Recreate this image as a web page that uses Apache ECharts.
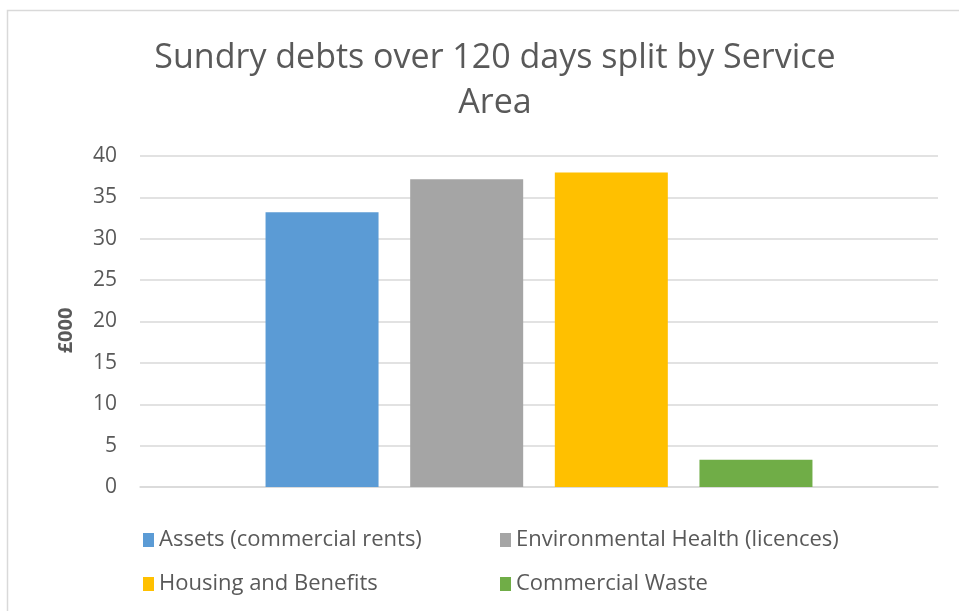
<!DOCTYPE html>
<html>
<head>
<meta charset="utf-8">
<script src="https://cdn.jsdelivr.net/npm/echarts@6/dist/echarts.min.js"></script>
<style>
  html, body { margin: 0; padding: 0; background: #fff; }
  #chart { width: 959px; height: 611px; }
</style>
</head>
<body>
<div id="chart"></div>
<script>
window.addEventListener("load", () => {
    // data
    const seriesNames = ["Assets (commercial rents)", "Environmental Health (licences)", "Housing and Benefits", "Commercial Waste"]
    const seriesValues = [33.2, 37.2, 38.0, 3.3]
    const seriesColors = ["#5b9bd5", "#a5a5a5", "#ffc000", "#70ad47"]
    const categories = [""]

    const FONT = "'Open Sans', 'Liberation Sans', sans-serif"
    const GREY = "#595959"

    let option = {
        backgroundColor: "#fff",
        animation: false,
        title: {
            text: "Sundry debts over 120 days split by Service\nArea",
            left: 490,
            top: 31,
            textAlign: "center",
            textStyle: {
                fontFamily: FONT,
                fontSize: 34,
                fontWeight: "normal",
                color: GREY,
                lineHeight: 45
            }
        },
        graphic: [{
            type: "rect",
            shape: { x: 7.5, y: 10.5, width: 960, height: 620 },
            style: { fill: "none", stroke: "#d9d9d9", lineWidth: 1.5 },
            silent: true
        }],
        legend: {
            left: 138,
            top: 518,
            width: 800,
            itemWidth: 11,
            itemHeight: 14,
            itemGap: 10,
            icon: "rect",
            textStyle: {
                fontFamily: FONT,
                fontSize: 22,
                color: GREY,
                width: 331,
                lineHeight: 34
            },
            data: seriesNames
        },
        grid: { left: 140, right: 21, top: 156, bottom: 124 },
        xAxis: {
            type: "category",
            data: categories,
            axisLine: { lineStyle: { color: "#d9d9d9", width: 1.5 } },
            axisTick: { show: false },
            axisLabel: { show: false }
        },
        yAxis: {
            type: "value",
            min: 0,
            max: 40,
            interval: 5,
            name: "£000",
            nameLocation: "middle",
            nameGap: 64,
            nameRotate: 90,
            nameTextStyle: { fontFamily: FONT, fontSize: 20, fontWeight: "bold", color: GREY, padding: [0, 18, 0, 0] },
            axisLine: { show: false },
            axisTick: { show: false },
            axisLabel: { fontFamily: FONT, fontSize: 21, color: GREY, margin: 23 },
            splitLine: { lineStyle: { color: "#d9d9d9", width: 1.5 } }
        },
        series: seriesNames.map((name, i) => ({
            name: name,
            type: "bar",
            data: [seriesValues[i]],
            barWidth: 113,
            barGap: "28%",
            itemStyle: { color: seriesColors[i] }
        }))
    };

    echarts.init(document.getElementById("chart")).setOption(option);
})
</script>
</body>
</html>
